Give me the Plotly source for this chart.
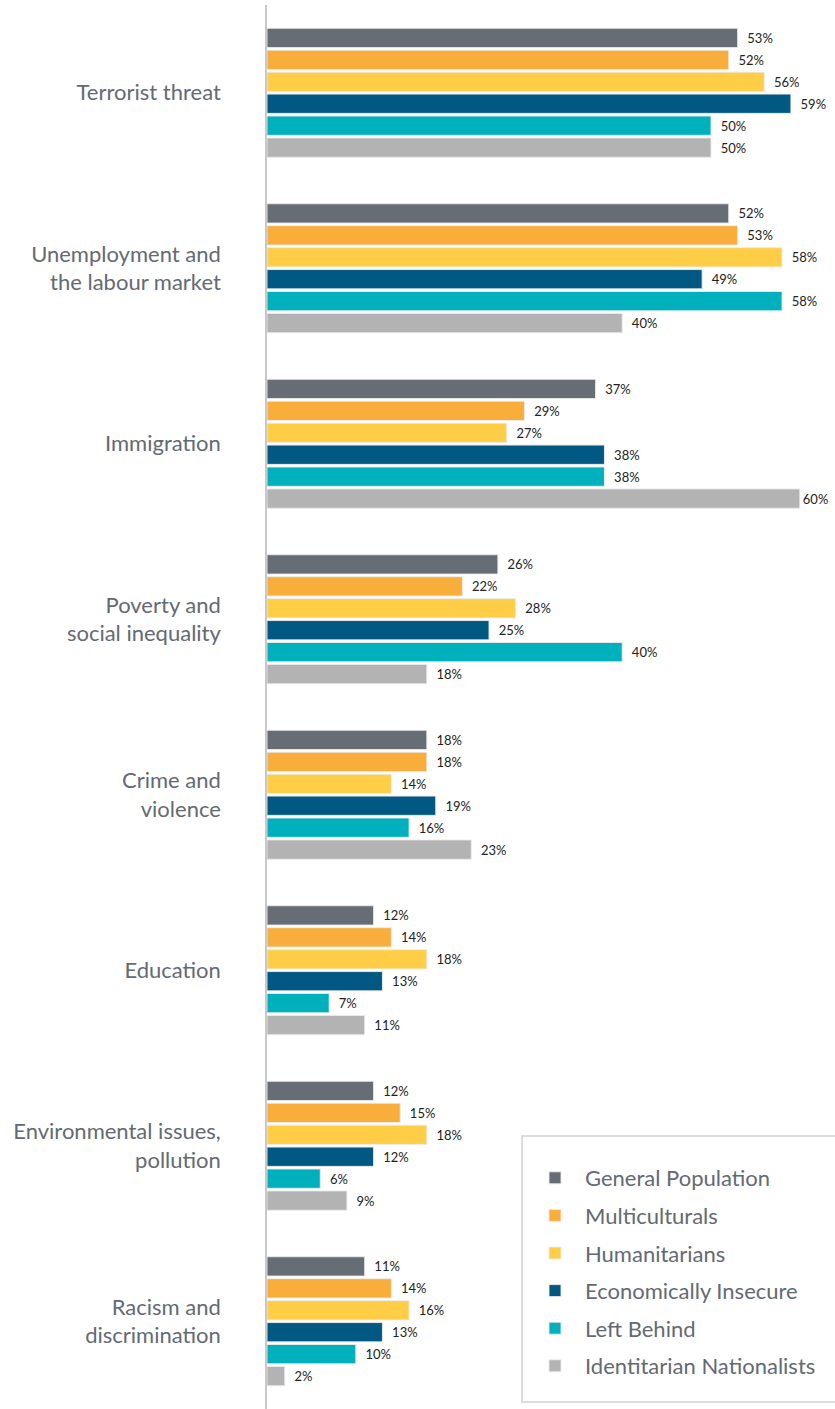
import plotly.graph_objects as go

categories = [
    "Terrorist threat",
    "Unemployment and<br>the labour market",
    "Immigration",
    "Poverty and<br>social inequality",
    "Crime and<br>violence",
    "Education",
    "Environmental issues,<br>pollution",
    "Racism and<br>discrimination",
]

series_names = [
    "General Population",
    "Multiculturals",
    "Humanitarians",
    "Economically Insecure",
    "Left Behind",
    "Identitarian Nationalists",
]

general_population = [53, 52, 37, 26, 18, 12, 12, 11]
multiculturals = [52, 53, 29, 22, 18, 14, 15, 14]
humanitarians = [56, 58, 27, 28, 14, 18, 18, 16]
economically_insecure = [59, 49, 38, 25, 19, 13, 12, 13]
left_behind = [50, 58, 38, 40, 16, 7, 6, 10]
identitarian_nationalists = [50, 40, 60, 18, 23, 11, 9, 2]

series_values = [
    general_population,
    multiculturals,
    humanitarians,
    economically_insecure,
    left_behind,
    identitarian_nationalists,
]

colors = ["#666d75", "#f9ae3c", "#ffcd46", "#005883", "#00b0bd", "#b3b3b3"]

W, H = 835, 1409
ML, MR, MT, MB = 267, 0, 5, 0
PW, PH = W - ML - MR, H - MT - MB
PX_PER_PCT = 8.88
XMAX = PW / PX_PER_PCT


def px_x(px):
    return (px - ML) / PW


def px_y(py):
    return (H - MB - py) / PH


def label(v):
    # wide gap after the bar, unless the label would run off the right edge
    fits = ML + v * PX_PER_PCT + 10 + 28 <= W
    pad = "\u00a0\u00a0" if fits else ""
    return f"{pad}{v}%"


fig = go.Figure()
for name, vals, col in zip(series_names, series_values, colors):
    fig.add_trace(go.Bar(
        y=categories,
        x=vals,
        name=name,
        orientation="h",
        marker=dict(color=col, line=dict(color="rgba(235,235,235,0.9)", width=1)),
        text=[label(v) for v in vals],
        textposition="outside",
        textfont=dict(family="Lato, sans-serif", size=13, color="#222222"),
        constraintext="none",
        cliponaxis=False,
        legendgroup=name,
    ))

fig.add_shape(
    type="rect", xref="paper", yref="paper",
    x0=px_x(522), x1=px_x(840), y0=px_y(1402), y1=px_y(1136),
    line=dict(color="#d2d2d2", width=1.5), fillcolor="white", layer="below",
)

fig.update_layout(
    width=W, height=H,
    margin=dict(l=ML, r=MR, t=MT, b=MB, autoexpand=False),
    paper_bgcolor="white", plot_bgcolor="white",
    barmode="group", bargap=0.25, bargroupgap=0.12,
    showlegend=True,
    legend=dict(
        x=px_x(525), xanchor="left",
        y=px_y(1157), yanchor="top",
        bgcolor="rgba(0,0,0,0)", borderwidth=0,
        font=dict(family="Lato, sans-serif", size=22, color="#636a73"),
        itemwidth=50, tracegroupgap=6, traceorder="grouped",
        itemclick=False, itemdoubleclick=False,
    ),
    xaxis=dict(range=[0, XMAX], visible=False),
    yaxis=dict(
        range=[7.5, -0.5], autorange=False,
        showline=True, linecolor="#c8c8c8", linewidth=1.5,
        ticks="", ticklabelstandoff=40, automargin=False,
        tickfont=dict(family="Lato, sans-serif", size=22, color="#636a73"),
        showgrid=False, zeroline=False,
    ),
)

fig.write_html(
    "out.html",
    config={"displayModeBar": False},
    post_script="document.body.style.margin='0';",
)
